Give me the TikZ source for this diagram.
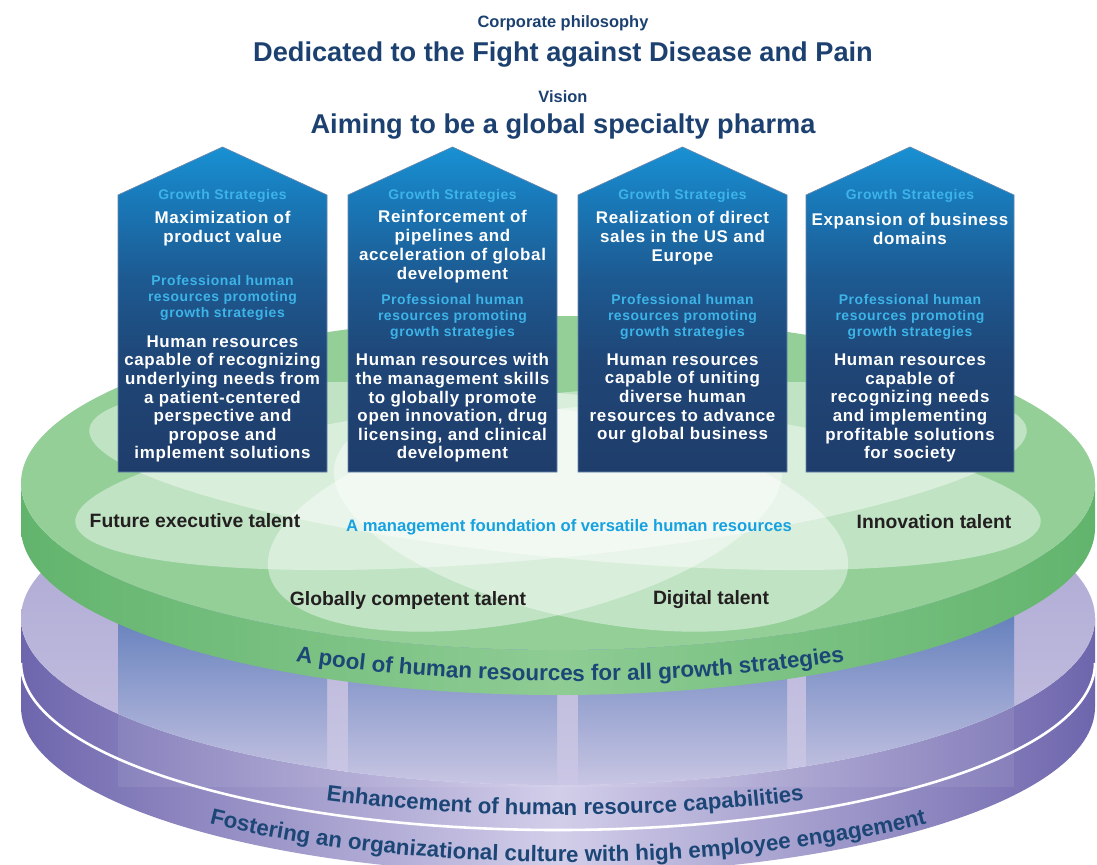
\documentclass[tikz,border=0pt]{standalone}
\usepackage{fontspec}
\setmainfont{Liberation Sans}
\newfontfamily\spacedsans{Liberation Sans}[LetterSpace=4]
\usetikzlibrary{decorations.text}

% palette
\definecolor{navy}{HTML}{1C4170}
\definecolor{cyanlab}{HTML}{3DB4E8}
\definecolor{cyanmid}{HTML}{16A2E0}
\definecolor{labink}{HTML}{231F20}
\definecolor{gtop}{HTML}{94CF98}
\definecolor{gside}{HTML}{62B46D}
\definecolor{gsidemid}{HTML}{8ECC94}
\definecolor{ptop}{HTML}{A7A2CF}
\definecolor{ptopin}{HTML}{C6C2E2}
\definecolor{pside}{HTML}{6E66AD}
\definecolor{psidemid}{HTML}{D2CEE9}
\definecolor{pillartop}{HTML}{4A6CB2}
\definecolor{pillarbot}{HTML}{C4C1E1}
\definecolor{hb1}{HTML}{1F3D6B}
\definecolor{hb2}{HTML}{1F4677}
\definecolor{hb3}{HTML}{1D5A92}
\definecolor{hb4}{HTML}{1979B9}
\definecolor{hb5}{HTML}{1891D3}
\definecolor{boxedge}{HTML}{6687AE}
\definecolor{curveink}{HTML}{1B4676}

\pgfdeclareverticalshading{housegrad}{100bp}{color(0bp)=(hb1); color(25bp)=(hb1);
  color(42bp)=(hb2); color(55bp)=(hb3); color(67bp)=(hb4); color(75bp)=(hb5); color(100bp)=(hb5)}

% type styles
\newcommand\topsmallfont{\bfseries\fontsize{16.5}{18}\selectfont}
\newcommand\topbigfont{\bfseries\fontsize{27.3}{30}\selectfont}
\newcommand\housegsfont{\spacedsans\bfseries\fontsize{14}{16}\selectfont}
\newcommand\housetitlefont{\spacedsans\bfseries\fontsize{17}{19}\selectfont}
\newcommand\houseproffont{\spacedsans\bfseries\fontsize{14}{16}\selectfont}
\newcommand\housebodyfont{\spacedsans\bfseries\fontsize{17}{18.7}\selectfont}
\newcommand\disklabelfont{\bfseries\fontsize{19.4}{22}\selectfont}
\newcommand\diskmidfont{\bfseries\fontsize{16.7}{19}\selectfont}
\newcommand\arcpoolfont{\bfseries\fontsize{22.5}{24}\selectfont\color{curveink}}
\newcommand\arcfont{\bfseries\fontsize{22.3}{24}\selectfont\color{curveink}}
\newcommand\arcbigfont{\bfseries\fontsize{22.4}{26}\selectfont\color{curveink}}

% house-shaped strategy panel: #1 left, #2 right
\newcommand\housepanel[2]{%
  \shade[shading=housegrad, draw=boxedge, line width=0.7]
    (#1,195) -- ({(#1+#2)/2},147) -- (#2,195) -- (#2,472) -- (#1,472) -- cycle;}

\tikzset{
  toplabel/.style={inner sep=0, text=navy, font=\topsmallfont},
  topheading/.style={inner sep=0, text=navy, font=\topbigfont},
  gslabel/.style={inner sep=0, align=center, text=cyanlab, font=\housegsfont},
  housetitle/.style={inner sep=0, align=center, text=white, font=\housetitlefont},
  proflabel/.style={inner sep=0, align=center, text=cyanlab, font=\houseproffont},
  housebody/.style={inner sep=0, align=center, text=white, font=\housebodyfont},
  disklabel/.style={inner sep=0, text=labink, font=\disklabelfont},
  petal/.style={fill=white, fill opacity=0.42},
}

\begin{document}
\begin{tikzpicture}[x=1bp, y=-1bp]
\useasboundingbox (0,0) rectangle (1097,865);
\fill[white] (0,0) rectangle (1097,865);

\begin{scope}
\clip (0,0) rectangle (1097,865);

% ---------- purple base cylinder ----------
\shade[left color=pside, right color=pside, middle color=psidemid]
  (21,618) -- (21,707) arc[start angle=180, end angle=0, x radius=537, y radius=167]
  -- (1095,618) arc[start angle=0, end angle=180, x radius=537, y radius=167] -- cycle;
\shade[top color=ptop, bottom color=ptopin]
  (558,618) ellipse[x radius=537, y radius=167];

% translucent pillars under each panel, seen through the top surface
\begin{scope}
  \clip (558,618) ellipse[x radius=537, y radius=167];
  \foreach \xl/\xr in {118/327, 348/557, 578/787, 806/1014}{
    \shade[top color=pillartop, bottom color=pillarbot]
      (\xl,590) rectangle (\xr,785);
  }
\end{scope}
\begin{scope}
  \clip (21,618) -- (21,707) arc[start angle=180, end angle=0, x radius=537, y radius=167]
    -- (1095,618) arc[start angle=0, end angle=-180, x radius=537, y radius=167] -- cycle;
  \fill[white, opacity=0.08] (118,470) rectangle (1014,787);
\end{scope}

% separator between the two purple layers
\draw[white, line width=2.6]
  (21,663) arc[start angle=180, end angle=0, x radius=537, y radius=167];

% curved captions on the purple layers
\path[decorate, decoration={text along path, text align=center,
  text={|\arcfont|Enhancement of human resource capabilities}}]
  (25,673) arc[start angle=180, end angle=0, x radius=540, y radius=142];
\path[decorate, decoration={text along path, text align=center,
  text={|\arcbigfont|Fostering an organizational culture with high employee engagement}}]
  (23,707) arc[start angle=180, end angle=0, x radius=545, y radius=155];

% ---------- green disk ----------
\shade[left color=gside, right color=gside, middle color=gsidemid]
  (21,483) -- (21,528) arc[start angle=180, end angle=0, x radius=537, y radius=167]
  -- (1095,483) arc[start angle=0, end angle=180, x radius=537, y radius=167] -- cycle;
\fill[gtop] (558,483) ellipse[x radius=537, y radius=167];

\begin{scope}
  \clip (558,483) ellipse[x radius=537, y radius=167];
  \fill[petal, rotate around={5.6:(551,476)}] (551,476) ellipse[x radius=478, y radius=82];
  \fill[petal, rotate around={-5.6:(565,476)}] (565,476) ellipse[x radius=478, y radius=82];
  \fill[petal, rotate around={12:(525,518)}] (525,518) ellipse[x radius=262, y radius=102];
  \fill[petal, rotate around={-12:(591,518)}] (591,518) ellipse[x radius=262, y radius=102];
\end{scope}

\node[disklabel] (fut) at (195,521) {Future executive talent};
\node[disklabel] (inno) at (934,522) {Innovation talent};
\node[disklabel] (glob) at (408,600) {Globally competent talent};
\node[disklabel] (digi) at (711,600) {Digital talent};
\node[inner sep=0, text=cyanmid, font=\diskmidfont] (found) at (569,527)
  {A management foundation of versatile human resources};

\path[decorate, decoration={text along path, text align=center,
  text={|\arcpoolfont|A pool of human resources for all growth strategies}}]
  (30,538) arc[start angle=180, end angle=0, x radius=540, y radius=143];
\end{scope}

% ---------- strategy panels ----------
\housepanel{118}{327}
\housepanel{348}{557}
\housepanel{578}{787}
\housepanel{806}{1014}

\node[gslabel] (gs1) at (222.5,196) {Growth Strategies};
\node[gslabel] (gs2) at (452.5,196) {Growth Strategies};
\node[gslabel] (gs3) at (682.5,196) {Growth Strategies};
\node[gslabel] (gs4) at (910,196) {Growth Strategies};

\node[housetitle] (st1) at (222.5,228.5) {Maximization of\\product value};
\node[housetitle] (st2) at (452.5,247) {Reinforcement of\\pipelines and\\acceleration of global\\development};
\node[housetitle] (st3) at (682.5,238) {Realization of direct\\sales in the US and\\Europe};
\node[housetitle] (st4) at (910,228.5) {Expansion of business\\domains};

\node[proflabel] (pr1) at (222.5,298) {Professional human\\resources promoting\\growth strategies};
\node[proflabel] (pr2) at (452.5,317) {Professional human\\resources promoting\\growth strategies};
\node[proflabel] (pr3) at (682.5,317) {Professional human\\resources promoting\\growth strategies};
\node[proflabel] (pr4) at (910,317) {Professional human\\resources promoting\\growth strategies};

\node[housebody] (hr1) at (222.5,399) {Human resources\\capable of recognizing\\underlying needs from\\a patient-centered\\perspective and\\propose and\\implement solutions};
\node[housebody] (hr2) at (452.5,408) {Human resources with\\the management skills\\to globally promote\\open innovation, drug\\licensing, and clinical\\development};
\node[housebody] (hr3) at (682.5,398.5) {Human resources\\capable of uniting\\diverse human\\resources to advance\\our global business};
\node[housebody] (hr4) at (910,408) {Human resources\\capable of\\recognizing needs\\and implementing\\profitable solutions\\for society};

% ---------- headings ----------
\node[toplabel] (philo) at (563,23) {Corporate philosophy};
\node[topheading] (philotxt) at (563,55) {Dedicated to the Fight against Disease and Pain};
\node[toplabel] (vision) at (563,97) {Vision};
\node[topheading] (visiontxt) at (563,127) {Aiming to be a global specialty pharma};
\end{tikzpicture}
\end{document}
